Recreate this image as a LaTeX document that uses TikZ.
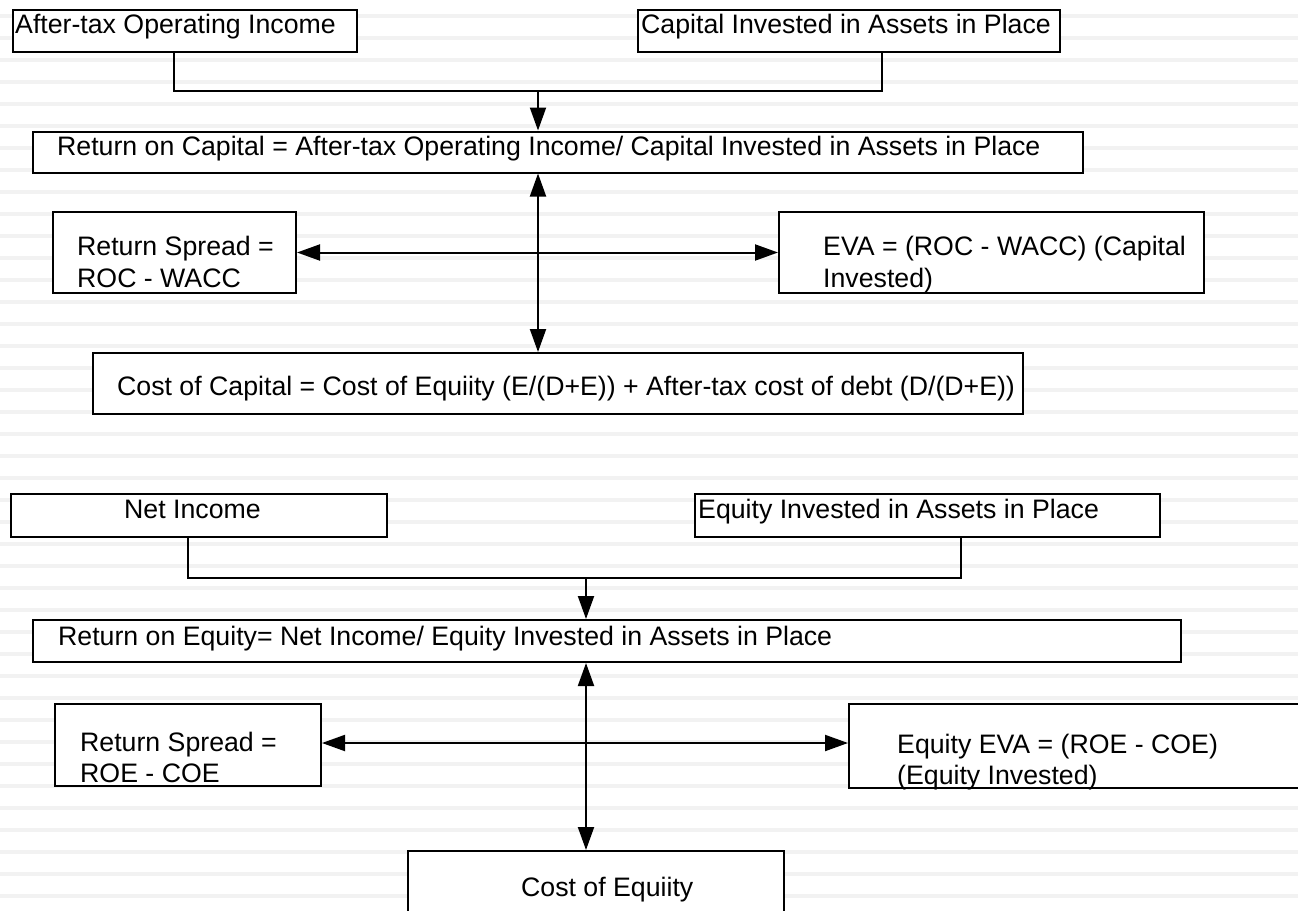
\documentclass[tikz,border=0pt]{standalone}
\usepackage{fontspec}
\setmainfont{Liberation Sans}
\usetikzlibrary{arrows.meta}
\begin{document}
\begin{tikzpicture}[x=1pt,y=-1pt,
  box/.style={draw=black,fill=white,line width=2pt,inner sep=0pt,rectangle},
  txt/.style={inner sep=0pt,anchor=base west,font=\fontsize{26.7}{32}\selectfont},
  conn/.style={line width=2pt,draw=black},
  tip/.style={-{Triangle[length=23pt,width=16pt]}},
  dtip/.style={{Triangle[length=23pt,width=16pt]}-{Triangle[length=23pt,width=16pt]}},
  stripe/.style={line width=4pt,draw=black!5}]
\useasboundingbox (0,0) rectangle (1298,910);
\clip (0,0) rectangle (1298,910);
\fill[white] (0,0) rectangle (1298,910);
\foreach \k in {0,...,40} \draw[stripe] (0,{15.7+22*\k}) -- (1298,{15.7+22*\k});

% upper part
\node[box,minimum width=344pt,minimum height=42pt] (aoi) at (185,31) {};
\node[txt] (aoit) at (15,33.5) {After-tax Operating Income};
\node[box,minimum width=422pt,minimum height=42pt] (cia) at (849,31) {};
\node[txt] (ciat) at (641,33.5) {Capital Invested in Assets in Place};
\node[box,minimum width=1050pt,minimum height=41pt] (roc) at (558,152) {};
\node[txt] (roct) at (57,155) {Return on Capital = After-tax Operating Income/ Capital Invested in Assets in Place};
\node[box,minimum width=243pt,minimum height=81pt] (rsc) at (174.5,252.5) {};
\node[txt] (rsc1) at (77,255) {Return Spread =};
\node[txt] (rsc2) at (77,287) {ROC - WACC};
\node[box,minimum width=425pt,minimum height=81pt] (eva) at (991.5,252.5) {};
\node[txt] (eva1) at (823,255) {EVA = (ROC - WACC) (Capital};
\node[txt] (eva2) at (823,287) {Invested)};
\node[box,minimum width=930pt,minimum height=61pt] (coc) at (558,383.5) {};
\node[txt] (coct) at (117,395) {Cost of Capital = Cost of Equiity (E/(D+E)) + After-tax cost of debt (D/(D+E))};

\coordinate (a1) at (174,91);
\coordinate (j1) at (538,91);
\coordinate (b1) at (882,91);
\draw[conn] (aoi.south -| a1) -- (a1) -- (b1) -- (cia.south -| b1);
\draw[conn,tip] (j1) -- (roc.north -| j1);
\draw[conn,dtip] (roc.south -| j1) -- (coc.north -| j1);
\draw[conn,dtip] (rsc.east) -- (eva.west |- rsc.east);

% lower part
\node[box,minimum width=376pt,minimum height=43pt] (ni) at (199,515.5) {};
\node[txt] (nit) at (124,518) {Net Income};
\node[box,minimum width=465pt,minimum height=43pt] (eia) at (927.5,515.5) {};
\node[txt] (eiat) at (698,518) {Equity Invested in Assets in Place};
\node[box,minimum width=1148pt,minimum height=42pt] (roe) at (607,641) {};
\node[txt] (roet) at (58,645) {Return on Equity= Net Income/ Equity Invested in Assets in Place};
\node[box,minimum width=266pt,minimum height=82pt] (rse) at (188,745) {};
\node[txt] (rse1) at (80,751) {Return Spread =};
\node[txt] (rse2) at (80,782) {ROE - COE};
\node[box,minimum width=461pt,minimum height=84pt] (eeva) at (1079.5,746) {};
\node[txt] (eeva1) at (897,753) {Equity EVA = (ROE - COE)};
\node[txt] (eeva2) at (897,784) {(Equity Invested)};
\node[box,minimum width=376pt,minimum height=74pt] (coe) at (596,888) {};
\node[txt] (coet) at (521,896) {Cost of Equiity};

\coordinate (a2) at (188,578);
\coordinate (j2) at (586,578);
\coordinate (b2) at (961,578);
\draw[conn] (ni.south -| a2) -- (a2) -- (b2) -- (eia.south -| b2);
\draw[conn,tip] (j2) -- (roe.north -| j2);
\draw[conn,dtip] (roe.south -| j2) -- (coe.north -| j2);
\draw[conn,dtip] (rse.east |- 0,743) -- (eeva.west |- 0,743);
\end{tikzpicture}
\end{document}
